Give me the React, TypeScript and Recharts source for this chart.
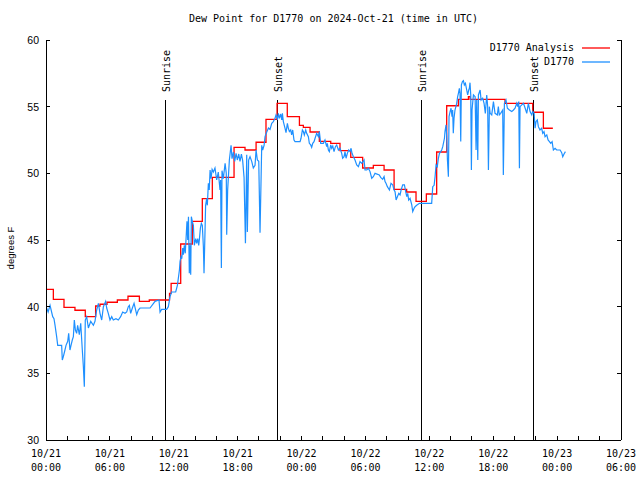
import { LineChart, Line, XAxis, YAxis, ReferenceLine, Legend } from 'recharts';

const MONO = "'DejaVu Sans Mono', monospace";
const SANS = "'Liberation Sans', Arial, sans-serif";
const RED = '#ff0000';
const BLUE = '#1e90ff';

// x axis: hours since 10/21 00:00 UTC
const hourTicks = [0, 2, 4, 6, 8, 10, 12, 14, 16, 18, 20, 22, 24, 26, 28, 30, 32, 34, 36, 38, 40, 42, 44, 46, 48, 50, 52, 54];
const labelHours = [0, 6, 12, 18, 24, 30, 36, 42, 48, 54];
const dayLabels = ['10/21', '10/21', '10/21', '10/21', '10/22', '10/22', '10/22', '10/22', '10/23', '10/23'];
const timeLabels = ['00:00', '06:00', '12:00', '18:00', '00:00', '06:00', '12:00', '18:00', '00:00', '06:00'];
const valueTicks = [30, 35, 40, 45, 50, 55, 60];
const legendOrder = ['D1770 Analysis', 'D1770'];

// D1770 Analysis (hourly step)
const analysisHours = [
  0, 0.69, 1.69, 2.72, 3.69, 4.66, 5.07, 5.73, 6.7, 7.7,
  8.77, 9.7, 11.6, 11.75, 12.65, 13.74, 14.68, 15.62, 17.66, 18.69,
  19.73, 20.66, 21.7, 22.66, 23.8, 24.17, 24.8, 25.67, 26.74, 27.61,
  28.62, 29.74, 30.74, 31.75, 32.69, 33.87, 34.75, 35.72, 36.69, 37.63,
  38.73, 39.67, 39.83, 43.11, 45.71, 46.71, 47.6,
];
const analysisValues = [
  41.3, 40.55, 39.95, 39.73, 39.25, 40.05, 40.18, 40.33, 40.5, 40.78,
  40.4, 40.5, 41.0, 41.75, 44.7, 46.4, 48.1, 49.7, 51.95, 51.75,
  52.33, 54.05, 55.25, 54.25, 53.6, 53.45, 53.1, 52.4, 52.25, 51.7,
  51.2, 50.4, 50.6, 50.25, 48.8, 48.6, 47.9, 48.45, 51.6, 55.07,
  55.55, 55.75, 55.55, 55.25, 54.58, 53.38, 53.38,
];

// D1770 observations
const obsHours = [
  0, 0.06, 0.2, 0.38, 0.63, 0.75, 0.85, 1.0, 1.1, 1.47,
  1.53, 1.63, 1.78, 1.88, 2.04, 2.13, 2.25, 2.35, 2.47, 2.57,
  2.66, 2.76, 2.88, 2.97, 3.13, 3.26, 3.41, 3.51, 3.6, 3.69,
  3.82, 3.98, 4.2, 4.45, 4.6, 4.76, 4.92, 5.07, 5.23, 5.39,
  5.6, 5.7, 5.85, 6.01, 6.17, 6.32, 6.57, 6.79, 7.01, 7.2,
  7.42, 7.58, 7.73, 7.83, 7.95, 8.11, 8.27, 8.52, 8.67, 8.83,
  9.77, 10.24, 10.61, 10.71, 10.86, 11.33, 11.49, 11.65, 11.8, 12.18,
  12.34, 12.53, 12.59, 12.68, 12.75, 12.84, 12.9, 12.99, 13.08, 13.18,
  13.24, 13.31, 13.38, 13.46, 13.52, 13.59, 13.65, 13.74, 13.84, 13.93,
  14.06, 14.15, 14.25, 14.34, 14.4, 14.5, 14.59, 14.68, 14.78, 14.84,
  14.9, 14.99, 15.09, 15.15, 15.25, 15.33, 15.41, 15.5, 15.6, 15.72,
  15.87, 16.03, 16.18, 16.34, 16.4, 16.47, 16.53, 16.65, 16.82, 16.93,
  16.97, 17.06, 17.22, 17.38, 17.47, 17.6, 17.72, 17.85, 17.97, 18.1,
  18.22, 18.35, 18.47, 18.6, 18.73, 18.85, 18.91, 19.03, 19.16, 19.32,
  19.47, 19.63, 19.73, 19.85, 19.98, 20.1, 20.26, 20.35, 20.48, 20.57,
  20.73, 20.89, 21.04, 21.2, 21.35, 21.51, 21.6, 21.67, 21.73, 21.82,
  21.92, 22.04, 22.14, 22.2, 22.29, 22.45, 22.54, 22.67, 22.76, 22.86,
  22.98, 23.07, 23.17, 23.29, 23.39, 23.86, 23.95, 24.08, 24.17, 24.26,
  24.39, 24.48, 24.64, 24.73, 24.86, 24.95, 25.05, 25.17, 25.27, 25.42,
  25.58, 25.67, 25.8, 26.05, 26.2, 26.36, 26.42, 26.52, 26.61, 26.74,
  26.83, 26.93, 27.05, 27.18, 27.3, 27.46, 27.61, 27.77, 27.86, 27.99,
  28.08, 28.18, 28.3, 28.43, 28.55, 28.65, 28.74, 28.87, 29.02, 29.18,
  29.34, 29.49, 29.65, 29.87, 29.96, 30.12, 30.28, 30.43, 30.59, 30.74,
  30.9, 31.3, 31.43, 31.62, 31.75, 31.84, 31.93, 32.06, 32.15, 32.25,
  32.4, 32.56, 32.69, 32.78, 32.88, 33.0, 33.13, 33.25, 33.35, 33.5,
  33.66, 33.78, 33.88, 33.97, 34.06, 34.19, 34.35, 34.44, 34.57, 34.66,
  34.81, 35.07, 35.19, 36.22, 36.32, 36.45, 36.54, 36.63, 36.75, 36.85,
  36.95, 37.07, 37.16, 37.26, 37.42, 37.47, 37.57, 37.63, 37.7, 37.79,
  37.85, 37.95, 38.04, 38.13, 38.19, 38.25, 38.32, 38.41, 38.57, 38.66,
  38.73, 38.82, 38.88, 38.95, 39.01, 39.11, 39.2, 39.29, 39.39, 39.51,
  39.6, 39.7, 39.76, 39.82, 39.89, 39.95, 40.01, 40.14, 40.3, 40.39,
  40.45, 40.55, 40.61, 40.77, 40.86, 41.01, 41.14, 41.26, 41.39, 41.48,
  41.55, 41.64, 41.71, 41.86, 42.02, 42.17, 42.39, 42.48, 42.57, 42.7,
  42.89, 42.95, 43.05, 43.2, 43.33, 43.52, 43.74, 43.9, 44.05, 44.21,
  44.3, 44.4, 44.46, 44.52, 44.68, 44.84, 45.0, 45.15, 45.3, 45.46,
  45.62, 45.71, 45.84, 45.93, 46.02, 46.14, 46.24, 46.39, 46.55, 46.65,
  46.77, 46.87, 47.03, 47.15, 47.28, 47.4, 47.53, 47.65, 47.81, 47.96,
  48.28, 48.43, 48.53, 48.65, 48.78,
];
const obsValues = [
  39.75, 39.9, 39.6, 40.1, 39.25, 39.1, 38.6, 37.75, 37.1, 37.1,
  36.0, 36.25, 36.75, 37.1, 37.4, 38.0, 36.75, 37.1, 37.5, 37.75,
  39.0, 38.25, 38.0, 38.6, 37.9, 38.75, 36.75, 35.5, 34.0, 39.0,
  39.25, 38.4, 38.9, 38.6, 38.9, 39.75, 40.25, 39.5, 39.0, 40.0,
  40.4, 39.9, 39.5, 39.0, 39.25, 39.0, 39.1, 39.0, 39.25, 39.6,
  39.5, 39.6, 40.0, 40.1, 39.5, 39.9, 40.25, 39.4, 39.75, 39.9,
  39.9, 40.4, 40.5, 39.6, 39.8, 39.8, 40.0, 40.75, 41.1, 41.1,
  41.6, 42.75, 43.4, 43.75, 43.6, 44.4, 43.9, 44.6, 44.0, 45.5,
  46.4, 45.0, 46.75, 42.5, 44.6, 42.4, 46.75, 46.4, 46.1, 44.6,
  45.1, 44.75, 45.1, 44.6, 45.0, 45.9, 46.25, 46.1, 44.5, 42.5,
  44.5, 47.6, 48.1, 47.6, 49.25, 48.75, 50.25, 49.6, 50.3, 50.1,
  50.4, 49.5, 50.1, 48.75, 49.5, 42.9, 50.2, 49.6, 50.75, 50.0,
  45.4, 48.75, 51.0, 52.1, 51.1, 51.6, 50.9, 51.5, 51.0, 51.45,
  50.9, 51.45, 50.95, 49.7, 44.75, 51.4, 45.6, 51.0, 51.25, 50.9,
  50.4, 50.6, 51.75, 51.0, 50.9, 45.55, 52.1, 51.75, 52.1, 52.75,
  53.1, 53.4, 53.3, 53.75, 53.88, 54.13, 54.38, 54.25, 54.0, 54.5,
  54.13, 54.45, 54.0, 54.5, 53.88, 53.38, 53.05, 53.75, 53.38, 53.13,
  53.25, 52.88, 53.25, 52.5, 52.38, 52.38, 52.63, 53.25, 53.13, 52.88,
  53.25, 53.0, 52.75, 52.25, 52.13, 51.95, 52.25, 52.38, 52.63, 53.0,
  52.75, 53.13, 52.25, 52.25, 52.5, 52.0, 52.25, 51.75, 51.63, 52.13,
  51.88, 52.05, 51.63, 52.0, 52.13, 51.75, 51.88, 51.5, 51.13, 51.25,
  51.63, 51.13, 51.5, 51.75, 51.63, 51.88, 51.5, 51.25, 51.0, 50.63,
  50.5, 50.88, 50.75, 51.0, 50.25, 50.25, 50.38, 50.13, 49.63, 49.75,
  50.0, 49.88, 49.7, 49.55, 49.75, 49.38, 49.25, 49.0, 48.88, 48.75,
  49.25, 49.13, 48.75, 48.63, 48.0, 48.25, 48.5, 48.38, 48.75, 49.13,
  49.13, 48.63, 48.25, 48.5, 48.0, 48.13, 47.63, 47.13, 47.38, 47.5,
  47.6, 47.75, 47.75, 47.75, 49.0, 49.1, 49.75, 50.63, 50.5, 51.13,
  51.5, 51.63, 51.75, 52.0, 52.63, 53.13, 53.63, 52.75, 51.0, 49.75,
  54.25, 54.63, 54.88, 54.25, 54.75, 53.0, 54.13, 54.75, 55.25, 55.75,
  56.0, 56.38, 56.0, 52.38, 56.63, 56.88, 56.95, 56.63, 56.75, 56.25,
  55.88, 56.25, 56.38, 56.8, 55.88, 50.25, 54.75, 55.88, 55.75, 51.75,
  55.5, 51.0, 55.88, 56.25, 55.5, 55.63, 55.25, 54.5, 55.88, 55.0,
  50.25, 55.0, 54.5, 54.38, 55.38, 54.5, 54.38, 55.0, 54.38, 54.5,
  54.75, 49.88, 55.25, 55.5, 54.88, 54.75, 54.63, 54.75, 54.88, 55.25,
  55.0, 55.38, 50.38, 55.0, 55.13, 55.25, 54.88, 54.5, 55.25, 54.63,
  54.38, 54.63, 54.5, 53.38, 53.88, 54.0, 53.5, 53.25, 53.38, 53.0,
  53.13, 52.75, 52.88, 52.5, 52.38, 52.25, 52.38, 51.75, 51.88, 51.75,
  51.75, 51.55, 51.25, 51.45, 51.63,
];

const sunHours = [11.18, 21.76, 35.22, 45.76];
const sunLabels = ['Sunrise', 'Sunset', 'Sunrise', 'Sunset'];
const sunLineTop = 55.5;

const analysisData = analysisHours.map((hour, i) => ({ hour, value: analysisValues[i] }));
const obsData = obsHours.map((hour, i) => ({ hour, value: obsValues[i] }));

const TICK = 4;

function BottomTick(props: any) {
  const { x, y, payload } = props;
  const i = labelHours.indexOf(payload.value);
  return (
    <g>
      <line x1={x} x2={x} y1={y} y2={y - TICK} stroke="#000" shapeRendering="crispEdges" />
      {i >= 0 && (
        <text x={x} y={y + 17} textAnchor="middle" fontFamily={MONO} fontSize={10} fill="#000">
          {dayLabels[i]}
        </text>
      )}
      {i >= 0 && (
        <text x={x} y={y + 31} textAnchor="middle" fontFamily={MONO} fontSize={10} fill="#000">
          {timeLabels[i]}
        </text>
      )}
    </g>
  );
}

function TopTick(props: any) {
  const { x, y } = props;
  return <line x1={x} x2={x} y1={y} y2={y + TICK} stroke="#000" shapeRendering="crispEdges" />;
}

function LeftTick(props: any) {
  const { x, y, payload } = props;
  return (
    <g>
      <line x1={x} x2={x + TICK} y1={y} y2={y} stroke="#000" shapeRendering="crispEdges" />
      <text x={x - 7} y={y + 4} textAnchor="end" fontFamily={SANS} fontSize={10.5} fill="#000">
        {payload.value}
      </text>
    </g>
  );
}

function RightTick(props: any) {
  const { x, y } = props;
  return <line x1={x} x2={x - TICK} y1={y} y2={y} stroke="#000" shapeRendering="crispEdges" />;
}

function AxisTitle(props: any) {
  const vb = props.viewBox;
  const cx = vb.x + 14;
  const cy = vb.y + vb.height / 2 + 8;
  return (
    <text x={cx} y={cy} transform={`rotate(-90 ${cx} ${cy})`} textAnchor="middle" fontFamily={SANS} fontSize={9.5} fill="#000">
      degrees F
    </text>
  );
}

function SunLabel({ viewBox, text }: any) {
  const x = viewBox.x + 4.5;
  const y = viewBox.y - 8;
  return (
    <text x={x} y={y} transform={`rotate(-90 ${x} ${y})`} fontFamily={MONO} fontSize={10} fill="#000">
      {text}
    </text>
  );
}

function LegendBox({ payload }: any) {
  const items = [...(payload || [])].sort(
    (a: any, b: any) => legendOrder.indexOf(a.value) - legendOrder.indexOf(b.value)
  );
  return (
    <div style={{ fontFamily: MONO, fontSize: 10, color: '#000' }}>
      {items.map((e: any) => (
        <div key={e.value} style={{ display: 'flex', alignItems: 'center', justifyContent: 'flex-end', width: 140, height: 14 }}>
          <span style={{ lineHeight: '14px' }}>{e.value}</span>
          <svg width={36} height={14} style={{ display: 'block' }}>
            <line x1={8} x2={36} y1={7} y2={7} stroke={e.color} strokeWidth={1.3} />
          </svg>
        </div>
      ))}
    </div>
  );
}

export default function App() {
  return (
    <div style={{ position: 'absolute', left: 0, top: 0, width: 640, height: 480, background: '#fff' }}>
      <div
        style={{
          position: 'absolute', left: 46, top: 12, width: 575, textAlign: 'center',
          fontFamily: MONO, fontSize: 10, lineHeight: '14px', color: '#000',
        }}
      >
        Dew Point for D1770 on 2024-Oct-21 (time in UTC)
      </div>
      <LineChart width={640} height={480} margin={{ top: 40, right: 0, bottom: 0, left: 0 }}>
        <XAxis
          xAxisId="b" dataKey="hour" type="number" domain={[0, 54]} allowDataOverflow
          ticks={hourTicks} interval={0} height={40} tickSize={0} tickMargin={0} tickLine={false}
          axisLine={{ stroke: '#000', shapeRendering: 'crispEdges' }} tick={BottomTick}
        />
        <XAxis
          xAxisId="t" orientation="top" dataKey="hour" type="number" domain={[0, 54]} allowDataOverflow
          ticks={hourTicks} interval={0} height={0} tickSize={0} tickMargin={0} tickLine={false}
          axisLine={{ stroke: '#000', shapeRendering: 'crispEdges' }} tick={TopTick}
        />
        <YAxis
          yAxisId="l" type="number" domain={[30, 60]} allowDataOverflow ticks={valueTicks} interval={0}
          width={46} tickSize={0} tickMargin={0} tickLine={false}
          axisLine={{ stroke: '#000', shapeRendering: 'crispEdges' }} tick={LeftTick}
          label={(p: any) => <AxisTitle {...p} />}
        />
        <YAxis
          yAxisId="r" orientation="right" type="number" domain={[30, 60]} allowDataOverflow ticks={valueTicks} interval={0}
          width={19} tickSize={0} tickMargin={0} tickLine={false}
          axisLine={{ stroke: '#000', shapeRendering: 'crispEdges' }} tick={RightTick}
        />
        {sunHours.map((h, i) => (
          <ReferenceLine
            key={i}
            xAxisId="b"
            yAxisId="l"
            segment={[{ x: h, y: 30 }, { x: h, y: sunLineTop }]}
            stroke="#000"
            shapeRendering="crispEdges"
            label={(p: any) => <SunLabel viewBox={p.viewBox} text={sunLabels[i]} />}
          />
        ))}
        <Legend
          layout="horizontal"
          verticalAlign="middle"
          align="center"
          wrapperStyle={{ left: 470, top: 41, width: 150 }}
          content={LegendBox}
        />
        <Line
          data={analysisData} xAxisId="t" yAxisId="r" dataKey="value" name="D1770 Analysis"
          type="stepAfter" stroke={RED} strokeWidth={1.3} dot={false} activeDot={false} isAnimationActive={false}
        />
        <Line
          data={obsData} xAxisId="b" yAxisId="l" dataKey="value" name="D1770"
          type="linear" stroke={BLUE} strokeWidth={1.2} dot={false} activeDot={false} isAnimationActive={false}
        />
      </LineChart>
    </div>
  );
}
